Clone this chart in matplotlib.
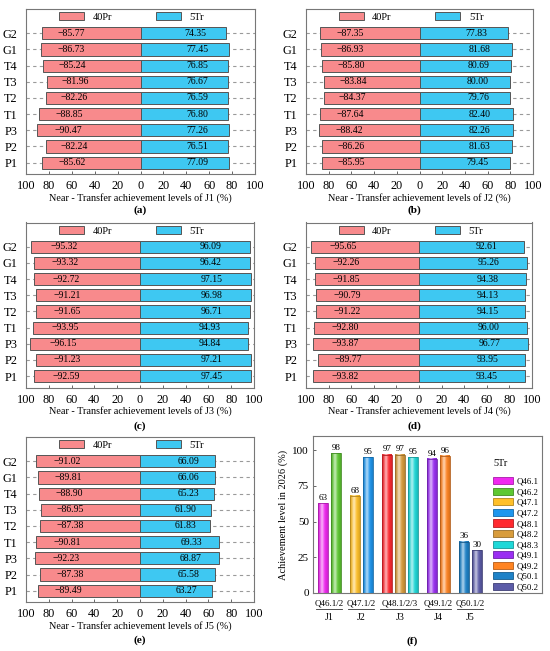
import numpy as np
import matplotlib
matplotlib.use('Agg')
import matplotlib.pyplot as plt
import matplotlib.colors as mcolors
import matplotlib.transforms as mtransforms
from matplotlib.patches import Rectangle, Patch

plt.rcParams['font.family'] = ['Liberation Serif', 'DejaVu Serif']

# Categories of the butterfly charts (bottom to top)
cats = ['P1', 'P2', 'P3', 'T1', 'T2', 'T3', 'T4', 'G1', 'G2']

# 40Pr (left side, negative) and 5Tr (right side) values for J1..J5
pr_j1 = [-85.62, -82.24, -90.47, -88.85, -82.26, -81.96, -85.24, -86.73, -85.77]
tr_j1 = [77.09, 76.51, 77.26, 76.80, 76.59, 76.67, 76.85, 77.45, 74.35]
pr_j2 = [-85.95, -86.26, -88.42, -87.64, -84.37, -83.84, -85.80, -86.93, -87.35]
tr_j2 = [79.45, 81.63, 82.26, 82.40, 79.76, 80.00, 80.69, 81.68, 77.83]
pr_j3 = [-92.59, -91.23, -96.15, -93.95, -91.65, -91.21, -92.72, -93.32, -95.32]
tr_j3 = [97.45, 97.21, 94.84, 94.93, 96.71, 96.98, 97.15, 96.42, 96.09]
pr_j4 = [-93.82, -89.77, -93.87, -92.80, -91.22, -90.79, -91.85, -92.26, -95.65]
tr_j4 = [93.45, 93.95, 96.77, 96.00, 94.15, 94.13, 94.38, 95.26, 92.61]
pr_j5 = [-89.49, -87.38, -92.23, -90.81, -87.38, -86.95, -88.90, -89.81, -91.02]
tr_j5 = [63.27, 65.58, 68.87, 69.33, 61.83, 61.90, 65.23, 66.06, 66.09]

# Panel (f): achievement level in 2026
q_names = ['Q46.1', 'Q46.2', 'Q47.1', 'Q47.2', 'Q48.1', 'Q48.2', 'Q48.3',
           'Q49.1', 'Q49.2', 'Q50.1', 'Q50.2']
q_values = [63, 98, 68, 95, 97, 97, 95, 94, 96, 36, 30]
q_group = [0, 0, 1, 1, 2, 2, 2, 3, 3, 4, 4]
group_sub = ['Q46.1/2', 'Q47.1/2', 'Q48.1/2/3', 'Q49.1/2', 'Q50.1/2']
group_names = ['J1', 'J2', 'J3', 'J4', 'J5']
q_colors = ['#F028F0', '#5EC832', '#FFC02A', '#1E96EE', '#FF2A30', '#D89C3C',
            '#1ED8D8', '#9A2EF2', '#FF8422', '#1E82C8', '#5C5CA8']

PR_COLOR = '#F88A8C'
TR_COLOR = '#3EC8F2'
EDGE = '#555555'

W, H = 550, 651


def px_rect(left, right, top, bottom):
    '''Convert pixel box of the reference picture into figure fraction'''
    return [left / W, 1 - bottom / H, (right - left) / W, (bottom - top) / H]


def butterfly(fig, rect, pr, tr, job, caption, cap_x, cap_y):
    '''
    Builds one 40Pr / 5Tr butterfly bar chart
    - rect: pixel box (left, right, top, bottom)
    - pr, tr: values of both sides
    - job: J1..J5 name for the x label
    '''
    ax = fig.add_axes(px_rect(*rect))
    y = np.arange(len(cats))
    for yy in y:
        ax.axhline(yy, color='#9a9a9a', lw=0.8, ls=(0, (3, 3)), zorder=0)
    ax.barh(y, pr, height=0.75, color=PR_COLOR, edgecolor=EDGE, lw=0.7,
            zorder=2, label='40Pr')
    ax.barh(y, tr, height=0.75, color=TR_COLOR, edgecolor=EDGE, lw=0.7,
            zorder=2, label='5Tr')
    for yy, v in zip(y, pr):
        ax.text(0.7 * v, yy, f'{v:.2f}'.replace('-', '\u2212'), ha='center',
                va='center', fontsize=7, zorder=3)
    for yy, v in zip(y, tr):
        ax.text(0.645 * v, yy, f'{v:.2f}', ha='center', va='center',
                fontsize=7, zorder=3)
    ax.set_xlim(-100, 100)
    ax.set_ylim(-0.7, 9.5)
    ax.set_xticks(np.arange(-100, 101, 20))
    ax.set_xticklabels([str(abs(v)) for v in range(-100, 101, 20)])
    ax.set_yticks(y)
    ax.set_yticklabels(cats)
    ax.tick_params(axis='x', direction='in', length=2.5, width=0.7,
                   labelsize=8.8, pad=4.5, color='#666666')
    ax.tick_params(axis='y', length=0, labelsize=8.8, pad=6)
    for s in ax.spines.values():
        s.set_color('#777777')
        s.set_linewidth(0.8)
    ax.set_xlabel(f'Near - Transfer achievement levels of {job} (%)',
                  fontsize=7.3, labelpad=0.5)
    ax.legend(loc='center left', bbox_to_anchor=(0.145, 0.95), ncol=2,
              frameon=False, fontsize=7.5, handlelength=2.4, handleheight=0.8,
              columnspacing=4.2, handletextpad=0.8, borderpad=0,
              borderaxespad=0)
    fig.text(cap_x / W, 1 - cap_y / H, caption, ha='center', va='center',
             fontsize=8.2, fontweight='bold')
    return ax


def gradient_bar(ax, x, h, w, color):
    '''Draws a bar with the cylinder-like shading of the reference'''
    rgb = np.array(mcolors.to_rgb(color))
    t = np.linspace(0, 1, 40)
    hi = 0.6 * np.exp(-((t - 0.4) / 0.2) ** 2)
    dark = 1 - 0.15 * (np.abs(t - 0.5) * 2) ** 2
    cols = (rgb * (1 - hi[:, None]) + hi[:, None]) * dark[:, None]
    ax.imshow(cols[None, :, :], extent=[x - w / 2, x + w / 2, 0, h],
              aspect='auto', interpolation='bilinear', zorder=2)
    edge = rgb * 0.7
    ax.add_patch(Rectangle((x - w / 2, 0), w, h, fill=False,
                           edgecolor=edge, lw=0.6, zorder=3))


def part_f(fig):
    '''Builds the grouped bar chart of the 2026 achievement level'''
    ax = fig.add_axes(px_rect(313, 542, 436, 593))
    # positions: bars 1 apart inside a group, 1.5 between groups
    pos = []
    x = 0.0
    for i, g in enumerate(q_group):
        if i > 0:
            x += 1.0 if g == q_group[i - 1] else 1.5
        pos.append(x)
    for p, v, c in zip(pos, q_values, q_colors):
        gradient_bar(ax, p, v, 0.78, c)
        ax.text(p, v + 0.8, str(v), ha='center', va='bottom', fontsize=6.5)
    ax.set_xlim(-0.8, 17.1)
    ax.set_ylim(0, 110)
    ax.set_yticks([0, 25, 50, 75, 100])
    ax.set_xticks([])
    ax.tick_params(axis='y', direction='in', length=2.5, width=0.7,
                   labelsize=8, pad=3, color='#666666')
    for s in ax.spines.values():
        s.set_color('#777777')
        s.set_linewidth(0.8)
    ax.set_ylabel('Achievement level in 2026 (%)', fontsize=7.5, labelpad=3)

    # group labels under the axes
    trans = mtransforms.blended_transform_factory(ax.transData, ax.transAxes)
    pos = np.array(pos)
    q_group_arr = np.array(q_group)
    for g in range(len(group_names)):
        gp = pos[q_group_arr == g]
        c = (gp.min() + gp.max()) / 2
        ax.text(c, -0.065, group_sub[g], transform=trans, ha='center',
                va='center', fontsize=6.5, clip_on=False)
        ax.plot([gp.min() - 0.55, gp.max() + 0.5], [-0.105, -0.105],
                transform=trans, color='#333333', lw=0.6, clip_on=False)
        ax.text(c, -0.155, group_names[g], transform=trans, ha='center',
                va='center', fontsize=7.2, clip_on=False)

    handles = [Patch(facecolor=c, edgecolor=np.array(mcolors.to_rgb(c)) * 0.7,
                     lw=0.6) for c in q_colors]
    ax.legend(handles, q_names, loc='upper left',
              bbox_to_anchor=(0.786, 0.738), frameon=False, fontsize=6.4,
              handlelength=2.3, handleheight=0.85,
              labelspacing=0.22, handletextpad=0.4, borderpad=0,
              borderaxespad=0)
    ax.text((501 - 313) / 229, 1 - (463 - 436) / 157, '5Tr',
            transform=ax.transAxes, ha='center', va='center', fontsize=7.3)
    fig.text(412 / W, 1 - 641 / H, '(f)', ha='center', va='center',
             fontsize=8.2, fontweight='bold')
    return ax


#
# Main
#

fig = plt.figure(figsize=(5.5, 6.51), dpi=100)

butterfly(fig, (26, 255, 9, 174), pr_j1, tr_j1, 'J1', '(a)', 140, 210)
butterfly(fig, (306, 533, 9, 174), pr_j2, tr_j2, 'J2', '(b)', 414, 210)
butterfly(fig, (26, 254, 222.5, 387.5), pr_j3, tr_j3, 'J3', '(c)', 140, 426)
butterfly(fig, (306, 532, 222.5, 387.5), pr_j4, tr_j4, 'J4', '(d)', 414, 426)
butterfly(fig, (26, 254, 437, 602), pr_j5, tr_j5, 'J5', '(e)', 140, 640)
part_f(fig)

fig.savefig('out.png', dpi=100)
